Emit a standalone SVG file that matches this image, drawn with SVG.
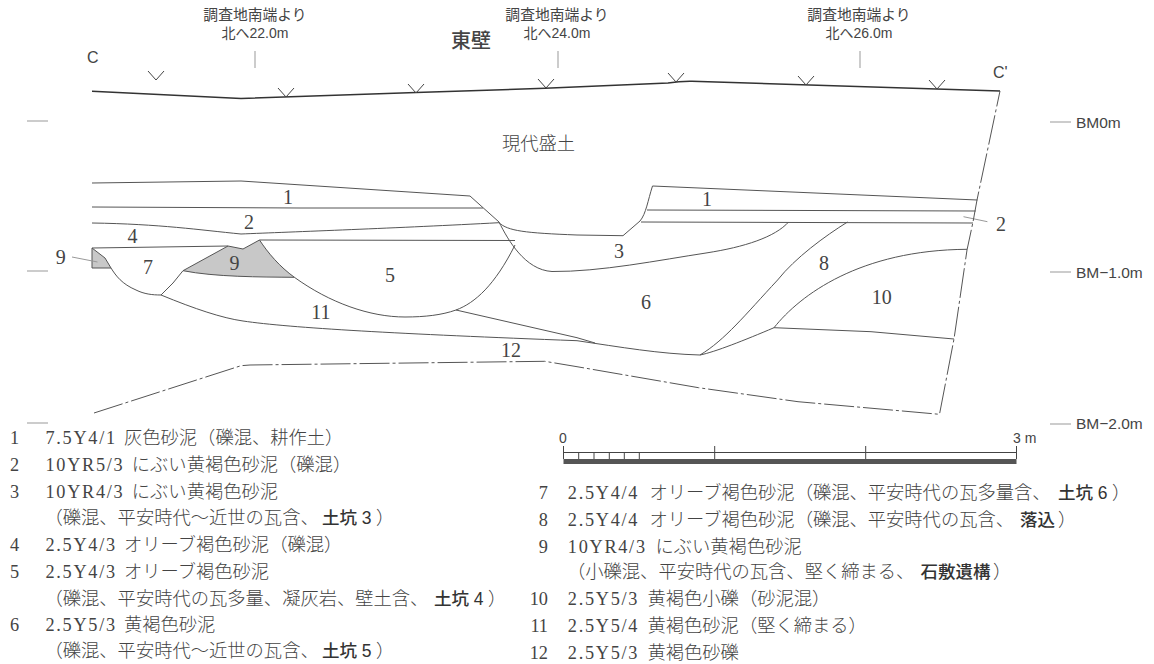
<svg xmlns="http://www.w3.org/2000/svg" width="1154" height="664" viewBox="0 0 1154 664">
<style>
.l{fill:none;stroke:#555;stroke-width:1;stroke-linejoin:round}
.d{stroke-dasharray:30 3 3 3}
.t{fill:none;stroke:#999;stroke-width:1}
.v{fill:none;stroke:#444;stroke-width:1}
.s{font-family:"Liberation Sans","Noto Sans CJK JP",sans-serif;fill:#444}
.n{font-family:"Liberation Serif","Noto Sans CJK JP",serif;font-size:20px;fill:#444;text-anchor:middle}
.g{font-family:"Liberation Serif","Noto Sans CJK JP",serif;font-size:18.3px;fill:#444;font-weight:300}
.c{letter-spacing:1.7px}
.b{font-family:"Liberation Sans","Noto Sans CJK JP",sans-serif;font-weight:500;fill:#333;font-size:17.5px}
.e{text-anchor:end}
</style>
<rect width="1154" height="664" fill="#fff"/>
<g id="fills">
<path d="M92 248L105 258L111 268H92Z" fill="#c8c8c8" stroke="#555"/>
<path d="M183 270.7L228 246L243 249L259.5 240C268 253 280 267 294.4 277.3C260 277 215 277 183 270.7Z" fill="#c8c8c8" stroke="#555"/>
</g>
<g id="connectors">
<path d="M92 91.300L241 98.500L416 92.500L545 88.300L668 83Q680 81 692 81.200L1000 91" fill="none" stroke="#333" stroke-width="1.600"/>
<path class="v" d="M148 71L156 80L164 71M278 88L286 97L294 88M408 84L416 93L424 84M538 79L546 88L554 79M668 73L676 82L684 73M798 76L806 85L814 76M929 80L937 89L945 80"/>
<path class="t" d="M255 51V68M558 51V68M860 51V68M27 121H48M27 271H48M27 423H48M1050 122H1071M1050 272H1071M1050 424H1071M72 257L97.500 262M963.500 216.700L987.400 221.700"/>
<path class="l" d="M92 183L241 181L470 196L499 222C508 240 525 270 552 271.500C600 272 660 260 706 253C745 247 775 237 788.600 222"/>
<path class="l" d="M92 207L300 208L483 208"/>
<path class="l" d="M92 223C160 224 200 230 241 234C290 232 400 228 499 222.700C508 231 525 233 577 235L623 235.700L640 221C646 214 648 200 652.500 186L977.400 200"/>
<path class="l" d="M647 210L975.700 211M641 222L973 223"/>
<path class="l" d="M92 248L228 246M259.500 240L515 240.500"/>
<path class="l" d="M111 268C116 276 122 284 136 290C144 294 152 295 161 295L173 283L183 270.700"/>
<path class="l" d="M294.400 277.300C330 303 370 317 405 317C425 317 442 315 456 310C475 303 495 285 515 245"/>
<path class="l" d="M161 295C195 309 222 318 243 321C290 328 400 334 577 340.700C620 347 660 354 700 355"/>
<path class="l" d="M456 310L577 337.700L595 343"/>
<path class="l" d="M700 355C725 340 745 315 777.600 280C795 258 825 236 847.500 222"/>
<path class="l" d="M700 355C715 352 745 340 774 327.700C800 295 860 250 967 249.300"/>
<path class="l" d="M774 327.700L871 331.700L954 339"/>
<path class="l d" d="M94 413L241 365.700L250 365L544.700 361.300L577 366.700L698.500 387.700L798 401.700L939.500 414.300L954 339L967 250L973 222L977 200L1000 91"/>
</g>
<g id="section-labels">
<text class="s" font-size="14.800" text-anchor="middle" x="255" y="20">調査地南端より</text>
<text class="s" font-size="14" text-anchor="middle" x="255" y="38">北へ22.0m</text>
<text class="s" font-size="14.800" text-anchor="middle" x="557" y="20">調査地南端より</text>
<text class="s" font-size="14" text-anchor="middle" x="557" y="38">北へ24.0m</text>
<text class="s" font-size="14.800" text-anchor="middle" x="859" y="20">調査地南端より</text>
<text class="s" font-size="14" text-anchor="middle" x="859" y="38">北へ26.0m</text>
<text class="s" font-size="20" font-weight="500" x="451" y="48">東壁</text>
<text class="s" font-size="16" x="87" y="63">C</text>
<text class="s" font-size="16" x="993" y="78">C'</text>
<text class="s" font-size="15.500" x="1076" y="128">BM0m</text>
<text class="s" font-size="15.500" x="1076" y="278">BM−1.0m</text>
<text class="s" font-size="15.500" x="1076" y="429">BM−2.0m</text>
<text class="g" font-size="18" x="502" y="150">現代盛土</text>
<text class="n" x="288" y="204">1</text>
<text class="n" x="249" y="229">2</text>
<text class="n" x="132.500" y="243">4</text>
<text class="n" x="60.700" y="264">9</text>
<text class="n" x="148" y="274">7</text>
<text class="n" x="234.500" y="270">9</text>
<text class="n" x="390" y="282">5</text>
<text class="n" x="321" y="319">11</text>
<text class="n" x="511" y="357">12</text>
<text class="n" x="619" y="258">3</text>
<text class="n" x="646" y="309">6</text>
<text class="n" x="824" y="270">8</text>
<text class="n" x="881.700" y="304">10</text>
<text class="n" x="707" y="206">1</text>
<text class="n" x="1001" y="231">2</text>
</g>
<g id="scale">
<rect x="563.500" y="459" width="453" height="5" fill="#555"/>
<path class="v" d="M563.500 446V459M714.700 446V459M865.700 446V459M1016.500 446V459M563.500 452.500H1016.500M578.700 452.500V459M594 452.500V459M609.300 452.500V459M624.300 452.500V459M639.300 452.500V459"/>
<text class="s" font-size="14" x="559" y="443">0</text>
<text class="s" font-size="14" x="1013" y="443">3 m</text>
</g>
<g id="legend-left">
<text class="g" x="10" y="444">1</text><text class="g" y="444"><tspan class="c" x="45.500">7.5Y4/1</tspan><tspan x="124">灰色砂泥（礫混、耕作土）</tspan></text>
<text class="g" x="10" y="471">2</text><text class="g" y="471"><tspan class="c" x="45.500">10YR5/3</tspan><tspan x="131.800">にぶい黄褐色砂泥（礫混）</tspan></text>
<text class="g" x="10" y="497.700">3</text><text class="g" y="497.700"><tspan class="c" x="45.500">10YR4/3</tspan><tspan x="131.800">にぶい黄褐色砂泥</tspan></text>
<text class="g" y="524"><tspan x="44.500">（礫混、平安時代～近世の瓦含、</tspan><tspan class="b" x="322">土坑 3</tspan><tspan x="376">）</tspan></text>
<text class="g" x="10" y="550.700">4</text><text class="g" y="550.700"><tspan class="c" x="45.500">2.5Y4/3</tspan><tspan x="124">オリーブ褐色砂泥（礫混）</tspan></text>
<text class="g" x="10" y="577.700">5</text><text class="g" y="577.700"><tspan class="c" x="45.500">2.5Y4/3</tspan><tspan x="124">オリーブ褐色砂泥</tspan></text>
<text class="g" y="605"><tspan x="44.500">（礫混、平安時代の瓦多量、凝灰岩、壁土含、</tspan><tspan class="b" x="434">土坑 4</tspan><tspan x="488">）</tspan></text>
<text class="g" x="10" y="630.700">6</text><text class="g" y="630.700"><tspan class="c" x="45.500">2.5Y5/3</tspan><tspan x="124">黄褐色砂泥</tspan></text>
<text class="g" y="657"><tspan x="44.500">（礫混、平安時代～近世の瓦含、</tspan><tspan class="b" x="322">土坑 5</tspan><tspan x="376">）</tspan></text>
</g>
<g id="legend-right">
<text class="g e" x="548" y="499.300">7</text><text class="g" y="499.300"><tspan class="c" x="567.800">2.5Y4/4</tspan><tspan x="649.500">オリーブ褐色砂泥（礫混、平安時代の瓦多量含、</tspan><tspan class="b" x="1058">土坑 6</tspan><tspan x="1112">）</tspan></text>
<text class="g e" x="548" y="526">8</text><text class="g" y="526"><tspan class="c" x="567.800">2.5Y4/4</tspan><tspan x="649.500">オリーブ褐色砂泥（礫混、平安時代の瓦含、</tspan><tspan class="b" x="1020">落込</tspan><tspan x="1058">）</tspan></text>
<text class="g e" x="548" y="552.700">9</text><text class="g" y="552.700"><tspan class="c" x="567.800">10YR4/3</tspan><tspan x="655.500">にぶい黄褐色砂泥</tspan></text>
<text class="g" y="578"><tspan x="567">（小礫混、平安時代の瓦含、堅く締まる、</tspan><tspan class="b" x="920.400">石敷遺構</tspan><tspan x="993">）</tspan></text>
<text class="g e" x="548" y="605">10</text><text class="g" y="605"><tspan class="c" x="567.800">2.5Y5/3</tspan><tspan x="647.500">黄褐色小礫（砂泥混）</tspan></text>
<text class="g e" x="548" y="632">11</text><text class="g" y="632"><tspan class="c" x="567.800">2.5Y5/4</tspan><tspan x="647.500">黄褐色砂泥（堅く締まる）</tspan></text>
<text class="g e" x="548" y="659">12</text><text class="g" y="659"><tspan class="c" x="567.800">2.5Y5/3</tspan><tspan x="647.500">黄褐色砂礫</tspan></text>
</g>
</svg>
